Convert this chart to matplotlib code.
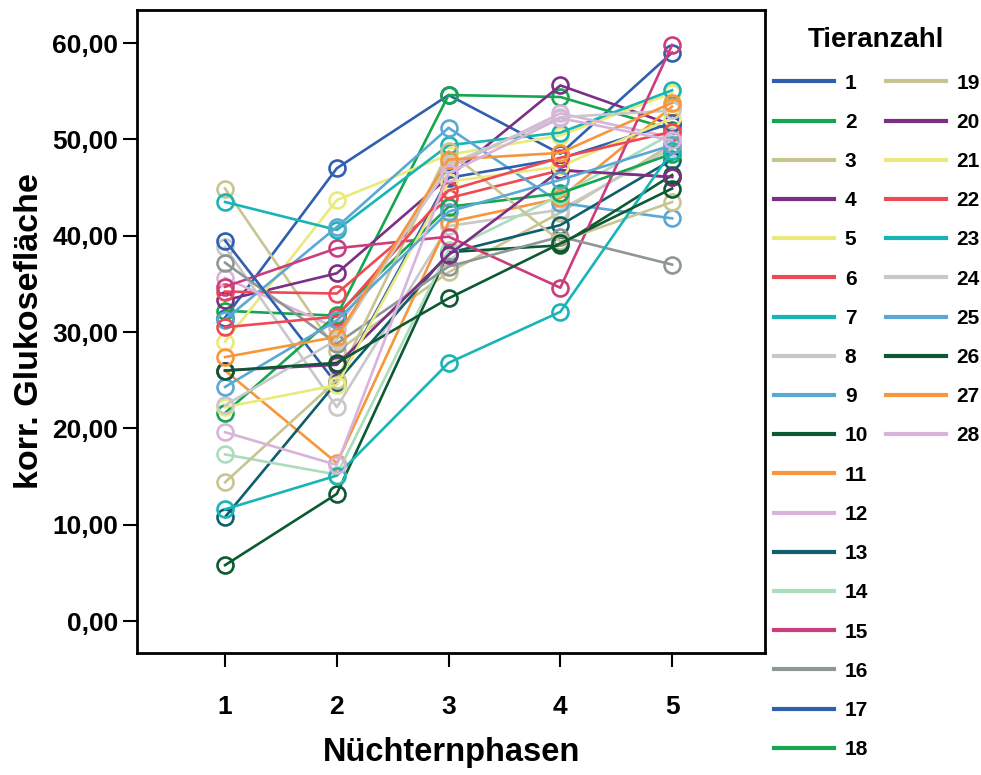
import matplotlib
matplotlib.use("Agg")
import matplotlib.pyplot as plt
from matplotlib.lines import Line2D

plt.rcParams['font.family'] = ['Liberation Sans', 'DejaVu Sans']
plt.rcParams['font.weight'] = 'bold'

phases = [1, 2, 3, 4, 5]
phase_labels = ["1", "2", "3", "4", "5"]
y_ticks = [0, 10, 20, 30, 40, 50, 60]
y_tick_labels = ["0,00", "10,00", "20,00", "30,00", "40,00", "50,00", "60,00"]

tier_01 = [31.5, 47.0, 54.6, 48.5, 59.0]
tier_02 = [32.2, 31.7, 54.6, 54.4, 51.0]
tier_03 = [44.9, 28.0, 36.2, 42.4, 49.5]
tier_04 = [33.3, 36.1, 46.1, 55.6, 51.5]
tier_05 = [29.0, 43.7, 48.4, 50.4, 54.8]
tier_06 = [34.2, 34.0, 43.9, 46.8, 46.1]
tier_07 = [43.5, 40.6, 49.4, 50.7, 55.1]
tier_08 = [38.8, 22.2, 41.0, 42.7, 49.1]
tier_09 = [31.3, 40.9, 51.2, 43.4, 41.8]
tier_10 = [5.8, 13.2, 38.3, 39.0, 46.3]
tier_11 = [26.0, 16.4, 41.4, 43.9, 53.4]
tier_12 = [35.6, 30.4, 47.0, 52.7, 50.2]
tier_13 = [10.8, 24.8, 38.2, 41.1, 47.9]
tier_14 = [17.3, 15.2, 38.5, 44.2, 50.6]
tier_15 = [34.7, 38.7, 39.9, 34.6, 59.8]
tier_16 = [37.2, 28.8, 36.8, 39.9, 37.0]
tier_17 = [39.5, 24.6, 46.0, 48.0, 51.7]
tier_18 = [21.6, 31.8, 43.0, 44.4, 48.5]
tier_19 = [14.4, 25.0, 48.8, 39.4, 43.5]
tier_20 = [26.0, 26.6, 38.0, 46.8, 46.1]
tier_21 = [22.2, 24.5, 45.6, 47.2, 52.2]
tier_22 = [30.5, 31.6, 44.7, 48.1, 50.8]
tier_23 = [11.6, 15.1, 26.8, 32.1, 48.8]
tier_24 = [22.4, 29.2, 47.4, 52.3, 53.0]
tier_25 = [24.3, 31.2, 42.5, 45.8, 49.4]
tier_26 = [26.0, 26.8, 33.5, 39.2, 44.9]
tier_27 = [27.4, 29.5, 47.9, 48.6, 53.8]
tier_28 = [19.6, 16.2, 46.5, 52.2, 49.9]

series = [tier_01, tier_02, tier_03, tier_04, tier_05, tier_06, tier_07,
          tier_08, tier_09, tier_10, tier_11, tier_12, tier_13, tier_14,
          tier_15, tier_16, tier_17, tier_18, tier_19, tier_20, tier_21,
          tier_22, tier_23, tier_24, tier_25, tier_26, tier_27, tier_28]
tier_labels = [str(i) for i in range(1, 29)]

# 16-colour cycle, repeated for animals 17-28
palette = ["#2f5fae", "#14a650", "#c9c592", "#7b2f85", "#eaea7c", "#ee4a55",
           "#18b4b6", "#c8c8c8", "#5aa8d4", "#0d5a32", "#f7963a", "#d8b3da",
           "#0f5e6c", "#acdcbe", "#cc3d7d", "#8f9697"]
colors = [palette[i % len(palette)] for i in range(len(series))]

fig = plt.figure(figsize=(9.81, 7.75), dpi=100)
ax = fig.add_axes([0.1397, 0.1574, 0.6402, 0.8297])

for vals, col, lab in zip(series, colors, tier_labels):
    ax.plot(phases, vals, color=col, lw=1.9, marker='o', ms=11.5,
            mfc='none', mec=col, mew=1.9, label=lab)

ax.set_xlim(0.2125, 5.832)
ax.set_ylim(-3.32, 63.43)
ax.set_xticks(phases)
ax.set_xticklabels(phase_labels)
ax.set_yticks(y_ticks)
ax.set_yticklabels(y_tick_labels)
ax.tick_params(axis='both', direction='out', length=10, width=1.5, labelsize=19)
ax.tick_params(axis='x', pad=20)
for sp in ax.spines.values():
    sp.set_linewidth(2)

ax.set_xlabel("Nüchternphasen", fontsize=23.5, fontweight='bold', labelpad=13)
ax.set_ylabel("korr. Glukosefläche", fontsize=24.5, fontweight='bold', labelpad=5)

handles = [Line2D([0], [0], color=c, lw=3) for c in colors]

fig.text(0.893, 0.948, "Tieranzahl", ha='center', va='center', fontsize=20,
         fontweight='bold')

leg_kw = dict(frameon=False, fontsize=15, handlelength=2.9, handletextpad=0.5,
              labelspacing=0.97, borderpad=0, borderaxespad=0, loc='upper left')
leg1 = fig.legend(handles[:18], tier_labels[:18], bbox_to_anchor=(0.789, 0.905), **leg_kw)
leg2 = fig.legend(handles[18:], tier_labels[18:], bbox_to_anchor=(0.903, 0.905), **leg_kw)

fig.savefig("out.png", dpi=100)
